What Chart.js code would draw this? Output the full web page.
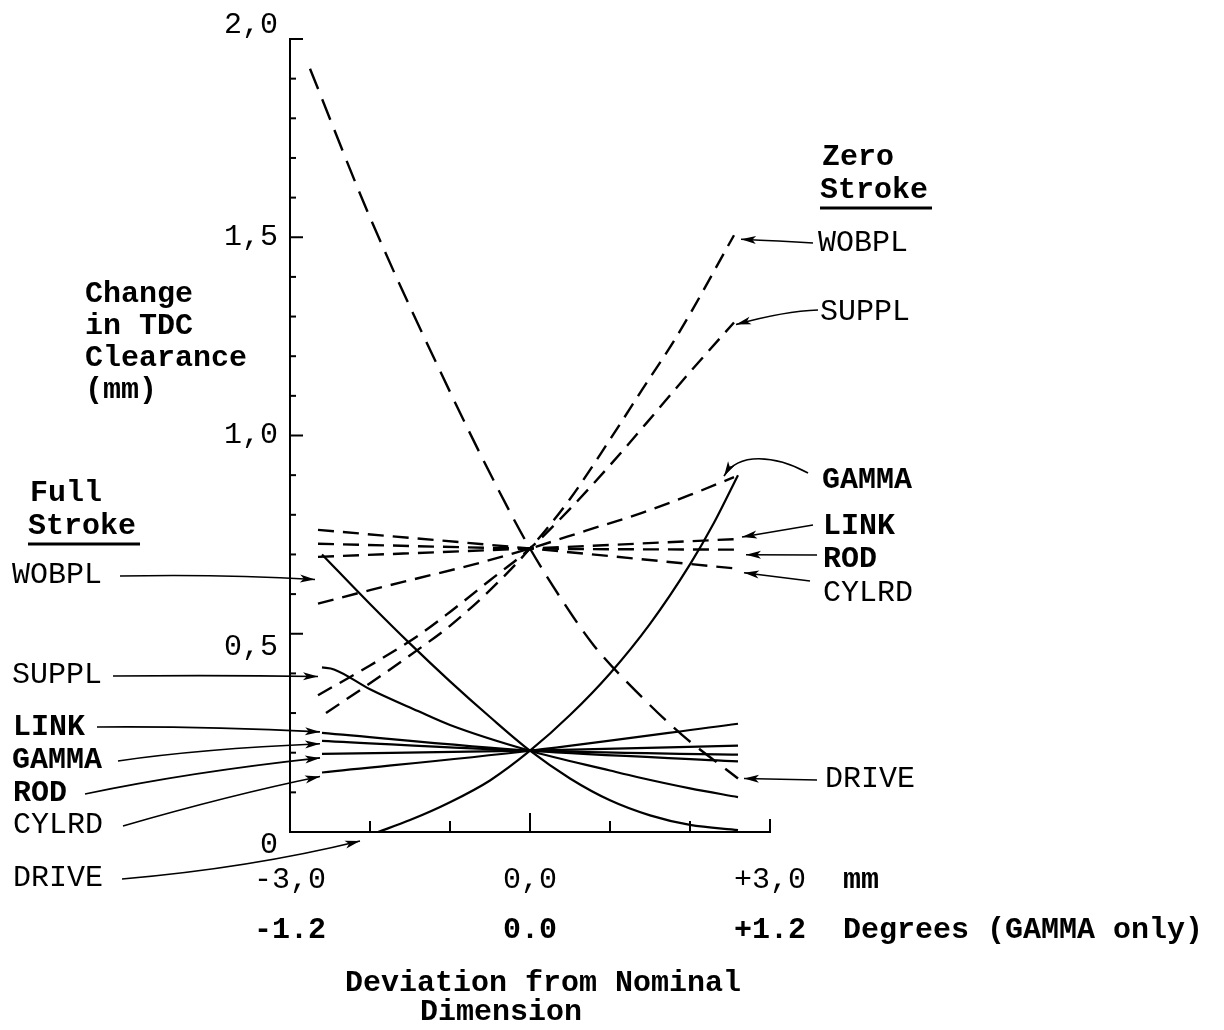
<!DOCTYPE html>
<html>
<head>
<meta charset="utf-8">
<script src="https://cdn.jsdelivr.net/npm/chart.js@4.4.1/dist/chart.umd.min.js"></script>
<style>
html,body{margin:0;padding:0;background:#fff;}
canvas{display:block;}
</style>
</head>
<body>
<canvas id="c" width="1224" height="1030"></canvas>
<script>
// ---------------- DATA ----------------
const seriesNames = ['WOBPL', 'SUPPL', 'LINK', 'GAMMA', 'ROD', 'CYLRD', 'DRIVE'];

// Full stroke (solid lines): x = deviation (mm), y = change in TDC clearance (mm)
const fsWobplX = [-2.6, -2, -1.5, -1, -0.5, 0, 0.5, 1, 1.5, 2, 2.6];
const fsWobplY = [0.70, 0.575, 0.475, 0.38, 0.29, 0.205, 0.135, 0.08, 0.042, 0.018, 0.005];
const fsSupplX = [-2.6, -2.45, -2, -1.4, -1, 0, 1, 1.35, 2, 2.6];
const fsSupplY = [0.415, 0.41, 0.36, 0.305, 0.27, 0.205, 0.155, 0.138, 0.11, 0.088];
const fsLinkX  = [-2.6, 0, 2.6];
const fsLinkY  = [0.25, 0.205, 0.178];
const fsGammaX = [-2.6, 0, 2.6];
const fsGammaY = [0.23, 0.205, 0.195];
const fsRodX   = [-2.6, 0, 2.6];
const fsRodY   = [0.197, 0.205, 0.218];
const fsCylrdX = [-2.6, 0, 2.6];
const fsCylrdY = [0.15, 0.205, 0.273];
const fsDriveX = [-1.9, -1.5, -1, -0.5, 0, 0.5, 1, 1.5, 2, 2.3, 2.6];
const fsDriveY = [0, 0.03, 0.075, 0.13, 0.205, 0.295, 0.40, 0.525, 0.675, 0.78, 0.90];

// Zero stroke (dashed lines)
const zsWobplX = [-2.55, -2, -1.4, -1, -0.5, 0, 0.5, 1, 1.4, 1.85, 2.55];
const zsWobplY = [0.30, 0.375, 0.46, 0.52, 0.61, 0.715, 0.84, 0.99, 1.115, 1.255, 1.505];
const zsSupplX = [-2.65, -2, -1.4, -1, -0.5, 0, 0.5, 1, 1.45, 2, 2.55];
const zsSupplY = [0.345, 0.42, 0.495, 0.555, 0.635, 0.715, 0.815, 0.925, 1.03, 1.16, 1.285];
const zsLinkX  = [-2.65, 0, 2.6];
const zsLinkY  = [0.694, 0.715, 0.739];
const zsGammaX = [-2.65, -2, -1.4, -0.7, 0, 0.7, 1.4, 2, 2.55];
const zsGammaY = [0.576, 0.61, 0.64, 0.675, 0.715, 0.76, 0.805, 0.85, 0.895];
const zsRodX   = [-2.65, 0, 2.6];
const zsRodY   = [0.727, 0.715, 0.712];
const zsCylrdX = [-2.65, 0, 2.6];
const zsCylrdY = [0.762, 0.715, 0.664];
const zsDriveX = [-2.75, -2, -1, -0.4, 0, 0.4, 0.8, 1.4, 1.9, 2.6];
const zsDriveY = [1.925, 1.55, 1.11, 0.865, 0.715, 0.585, 0.47, 0.34, 0.245, 0.135];

// Tick labels
const yTickValues   = [0, 0.5, 1.0, 1.5, 2.0];
const yTickLabels   = ['0', '0,5', '1,0', '1,5', '2,0'];
const xTickValues   = [-3, 0, 3];
const xTickLabelsMm = ['-3,0', '0,0', '+3,0'];
const degTickValues = [-1.2, 0, 1.2];
const degTickLabels = ['-1.2', '0.0', '+1.2'];
const xMinorTicks   = [-3, -2, -1, 0, 1, 2, 3];

// ---------------- CHART ----------------
const FONT = 'Liberation Mono';
function pts(xs, ys) { return xs.map((x, i) => ({ x: x, y: ys[i] })); }

const fullSets = [
  [fsWobplX, fsWobplY], [fsSupplX, fsSupplY], [fsLinkX, fsLinkY], [fsGammaX, fsGammaY],
  [fsRodX, fsRodY], [fsCylrdX, fsCylrdY], [fsDriveX, fsDriveY]
];
const zeroSets = [
  [zsWobplX, zsWobplY], [zsSupplX, zsSupplY], [zsLinkX, zsLinkY], [zsGammaX, zsGammaY],
  [zsRodX, zsRodY], [zsCylrdX, zsCylrdY], [zsDriveX, zsDriveY]
];

const datasets = [];
seriesNames.forEach((n, i) => {
  datasets.push({
    label: n + ' (Full Stroke)', data: pts(fullSets[i][0], fullSets[i][1]),
    borderColor: '#000', borderWidth: 2.2, pointRadius: 0, fill: false,
    cubicInterpolationMode: 'monotone', clip: false
  });
});
seriesNames.forEach((n, i) => {
  datasets.push({
    label: n + ' (Zero Stroke)', data: pts(zeroSets[i][0], zeroSets[i][1]),
    borderColor: '#000', borderWidth: 2.4, pointRadius: 0, fill: false,
    borderDash: n === 'DRIVE' ? [22, 11] : [16, 9],
    cubicInterpolationMode: 'monotone', clip: false
  });
});

function findIdx(arr, v) { return arr.findIndex(t => Math.abs(t - v) < 1e-6); }

// annotation layout (pixels)
const texts = [
  { t: 'Full', x: 30, y: 493, b: true },
  { t: 'Stroke', x: 28, y: 526, b: true },
  { t: 'Zero', x: 822, y: 157, b: true },
  { t: 'Stroke', x: 820, y: 190, b: true },
  { t: 'Change', x: 85, y: 294, b: true },
  { t: 'in TDC', x: 85, y: 326, b: true },
  { t: 'Clearance', x: 85, y: 358, b: true },
  { t: '(mm)', x: 85, y: 390, b: true },
  { t: 'mm', x: 843, y: 880, b: true },
  { t: 'Degrees (GAMMA only)', x: 843, y: 930, b: true },
  { t: 'Deviation from Nominal', x: 345, y: 983, b: true },
  { t: 'Dimension', x: 420, y: 1012, b: true }
];
const underlines = [ [28, 140, 544], [820, 932, 208] ];

// arrows: label text, dataset index, point (first/last), tip offset, start, controls
const arrows = [
  { t: 'WOBPL', tx: 12,  ty: 575, b: false, ds: 0,  end: 'first', dx: -7,  dy: 25, from: [120, 576], c: [220, 574] },
  { t: 'SUPPL', tx: 12,  ty: 675, b: false, ds: 1,  end: 'first', dx: -4,  dy: 9,  from: [113, 676], c: [220, 675] },
  { t: 'LINK',  tx: 13,  ty: 727, b: true,  ds: 2,  end: 'first', dx: -2,  dy: -1, from: [97, 727],  c: [200, 726] },
  { t: 'GAMMA', tx: 12,  ty: 760, b: true,  ds: 3,  end: 'first', dx: -2,  dy: 3,  from: [118, 761], c: [200, 749] },
  { t: 'ROD',   tx: 13,  ty: 793, b: true,  ds: 4,  end: 'first', dx: -2,  dy: 4,  from: [85, 794],  c: [190, 772] },
  { t: 'CYLRD', tx: 13,  ty: 825, b: false, ds: 5,  end: 'first', dx: -2,  dy: 4,  from: [123, 826], c: [230, 795] },
  { t: 'DRIVE', tx: 13,  ty: 878, b: false, ds: 6,  end: 'first', dx: -18, dy: 9,  from: [122, 879], c: [250, 868] },
  { t: 'WOBPL', tx: 818, ty: 243, b: false, ds: 7,  end: 'last',  dx: 7,   dy: 4,  from: [813, 243], c: [780, 241] },
  { t: 'SUPPL', tx: 820, ty: 312, b: false, ds: 8,  end: 'last',  dx: 2,   dy: 2,  from: [818, 310], c: [785, 311] },
  { t: 'GAMMA', tx: 822, ty: 480, b: true,  ds: 10, end: 'last',  dx: -10, dy: -1, from: [808, 473], c: [775, 455], c2: [738, 452] },
  { t: 'LINK',  tx: 823, ty: 526, b: true,  ds: 9,  end: 'last',  dx: 4,   dy: -2, from: [813, 525] },
  { t: 'ROD',   tx: 823, ty: 559, b: true,  ds: 11, end: 'last',  dx: 8,   dy: 5,  from: [817, 555] },
  { t: 'CYLRD', tx: 823, ty: 593, b: false, ds: 12, end: 'last',  dx: 6,   dy: 4,  from: [810, 581] },
  { t: 'DRIVE', tx: 825, ty: 779, b: false, ds: 13, end: 'last',  dx: 6,   dy: 0,  from: [817, 780] }
];

const annot = {
  id: 'annot',
  afterDraw(chart) {
    const ctx = chart.ctx;
    const xs = chart.scales.x, ys = chart.scales.y;
    const ca = chart.chartArea;
    ctx.save();
    ctx.strokeStyle = '#000';
    ctx.fillStyle = '#000';
    // inward tick marks
    ctx.lineWidth = 2;
    ys.ticks.forEach(tk => {
      if (tk.value <= 0) return;
      const y = ys.getPixelForValue(tk.value);
      const major = findIdx(yTickValues, tk.value) >= 0;
      ctx.beginPath();
      ctx.moveTo(ca.left, y);
      ctx.lineTo(ca.left + (major ? 13 : 6), y);
      ctx.stroke();
    });
    xs.ticks.forEach(tk => {
      if (tk.value <= -3) return;
      const x = xs.getPixelForValue(tk.value);
      const len = tk.value === 0 ? 19 : (tk.value === 3 ? 13 : 11);
      ctx.beginPath();
      ctx.moveTo(x, ca.bottom);
      ctx.lineTo(x, ca.bottom - len);
      ctx.stroke();
    });
    // texts
    ctx.textBaseline = 'middle';
    ctx.textAlign = 'left';
    texts.forEach(o => {
      ctx.font = (o.b ? 'bold ' : '') + '30px "' + FONT + '"';
      ctx.fillText(o.t, o.x, o.y);
    });
    ctx.lineWidth = 3;
    underlines.forEach(u => {
      ctx.beginPath(); ctx.moveTo(u[0], u[2]); ctx.lineTo(u[1], u[2]); ctx.stroke();
    });
    // arrows with labels
    arrows.forEach(a => {
      ctx.font = (a.b ? 'bold ' : '') + '30px "' + FONT + '"';
      ctx.fillText(a.t, a.tx, a.ty);
      const meta = chart.getDatasetMeta(a.ds);
      const el = a.end === 'first' ? meta.data[0] : meta.data[meta.data.length - 1];
      const tip = [el.x + a.dx, el.y + a.dy];
      ctx.lineWidth = 1.6;
      ctx.beginPath();
      ctx.moveTo(a.from[0], a.from[1]);
      let prev = a.from;
      if (a.c && a.c2) { ctx.bezierCurveTo(a.c[0], a.c[1], a.c2[0], a.c2[1], tip[0], tip[1]); prev = a.c2; }
      else if (a.c) { ctx.quadraticCurveTo(a.c[0], a.c[1], tip[0], tip[1]); prev = a.c; }
      else { ctx.lineTo(tip[0], tip[1]); }
      ctx.stroke();
      const ang = Math.atan2(tip[1] - prev[1], tip[0] - prev[0]);
      const L = 15, W = 4;
      ctx.beginPath();
      ctx.moveTo(tip[0], tip[1]);
      ctx.lineTo(tip[0] - L * Math.cos(ang) + W * Math.sin(ang), tip[1] - L * Math.sin(ang) - W * Math.cos(ang));
      ctx.lineTo(tip[0] - L * 0.75 * Math.cos(ang), tip[1] - L * 0.75 * Math.sin(ang));
      ctx.lineTo(tip[0] - L * Math.cos(ang) - W * Math.sin(ang), tip[1] - L * Math.sin(ang) + W * Math.cos(ang));
      ctx.closePath();
      ctx.fill();
    });
    ctx.restore();
  }
};

const bg = {
  id: 'bg',
  beforeDraw(chart) {
    const c = chart.ctx; c.save(); c.fillStyle = '#fff';
    c.fillRect(0, 0, chart.width, chart.height); c.restore();
  }
};

new Chart(document.getElementById('c'), {
  type: 'line',
  data: { datasets: datasets },
  options: {
    responsive: false,
    animation: false,
    devicePixelRatio: 1,
    layout: { padding: { left: 0, top: 35, right: 454, bottom: 73 } },
    plugins: { legend: { display: false }, tooltip: { enabled: false }, title: { display: false } },
    elements: { point: { radius: 0 } },
    scales: {
      x: {
        type: 'linear', position: 'bottom', min: -3, max: 3, weight: 0,
        afterBuildTicks: s => { s.ticks = xMinorTicks.map(v => ({ value: v })); },
        afterFit: s => { s.height = 75; },
        grid: { display: false, drawTicks: false },
        border: { display: true, color: '#000', width: 2 },
        ticks: {
          autoSkip: false, maxRotation: 0, minRotation: 0, padding: 30, color: '#000',
          font: { family: FONT, size: 30 },
          callback: v => { const i = findIdx(xTickValues, v); return i < 0 ? '' : xTickLabelsMm[i]; }
        }
      },
      x2: {
        type: 'linear', position: 'bottom', min: -1.2, max: 1.2, weight: 1,
        afterBuildTicks: s => { s.ticks = degTickValues.map(v => ({ value: v })); },
        afterFit: s => { s.height = 50; },
        grid: { display: false, drawTicks: false },
        border: { display: false },
        ticks: {
          autoSkip: false, maxRotation: 0, minRotation: 0, padding: 5, color: '#000',
          font: { family: FONT, size: 30, weight: 'bold' },
          callback: v => { const i = findIdx(degTickValues, v); return i < 0 ? '' : degTickLabels[i]; }
        }
      },
      y: {
        type: 'linear', position: 'left', min: 0, max: 2,
        afterBuildTicks: s => { const t = []; for (let k = 0; k <= 20; k++) t.push({ value: k / 10 }); s.ticks = t; },
        afterFit: s => { s.width = 290; },
        grid: { display: false, drawTicks: false },
        border: { display: true, color: '#000', width: 2 },
        ticks: {
          autoSkip: false, padding: 12, color: '#000',
          font: { family: FONT, size: 30, lineHeight: 0.9 },
          callback: v => {
            const i = findIdx(yTickValues, v);
            if (i < 0) return '';
            const s = yTickLabels[i];
            if (v > 1.9) return [s, ''];
            if (v < 0.6) return ['', s];
            return s;
          }
        }
      }
    }
  },
  plugins: [bg, annot]
});
</script>
</body>
</html>
